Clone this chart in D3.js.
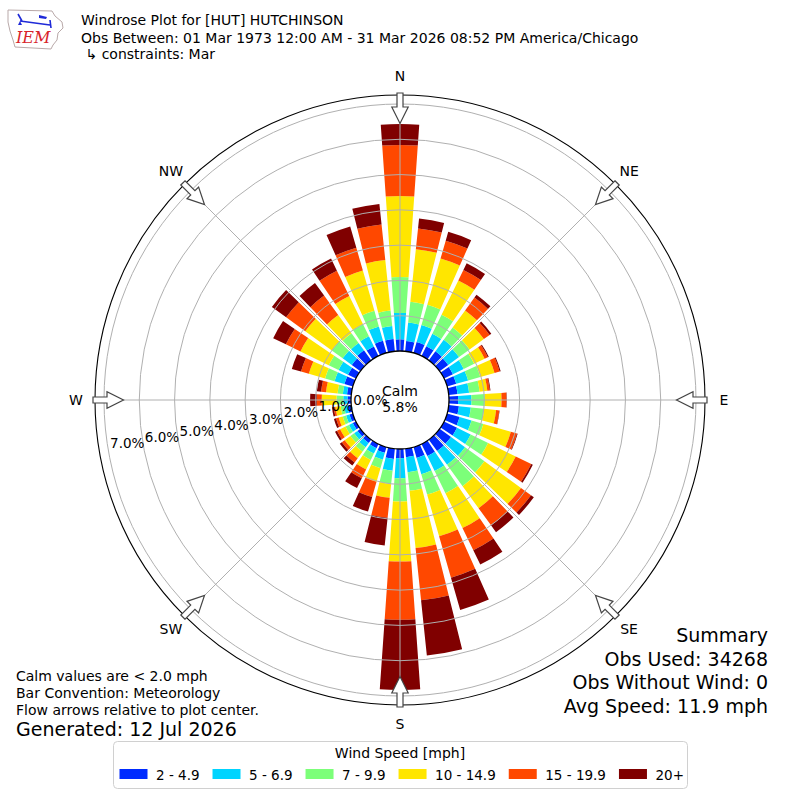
<!DOCTYPE html>
<html>
<head>
<meta charset="utf-8">
<script src="https://cdn.jsdelivr.net/npm/d3@7"></script>
<style>
  body { margin: 0; background: #fff; }
  text { font-family: "DejaVu Sans", sans-serif; fill: #000; }
</style>
</head>
<body>
<svg id="chart" width="800" height="800"></svg>
<script>
// direction bins (degrees, meteorological convention)
const directions = [0, 10, 20, 30, 40, 50, 60, 70, 80, 90, 100, 110, 120, 130, 140, 150, 160, 170,
  180, 190, 200, 210, 220, 230, 240, 250, 260, 270, 280, 290, 300, 310, 320, 330, 340, 350];

// frequency (%) per speed class, one value per direction bin
const speed_2_5 = [0.33, 0.29, 0.32, 0.31, 0.32, 0.30, 0.28, 0.27, 0.25, 0.26, 0.29, 0.37, 0.41, 0.40, 0.40, 0.38, 0.32, 0.24,
  0.26, 0.29, 0.17, 0.13, 0.12, 0.10, 0.10, 0.10, 0.10, 0.10, 0.12, 0.25, 0.25, 0.30, 0.35, 0.30, 0.36, 0.35];
const speed_5_7 = [0.75, 0.53, 0.50, 0.39, 0.40, 0.38, 0.34, 0.35, 0.33, 0.38, 0.34, 0.35, 0.43, 0.49, 0.48, 0.47, 0.48, 0.43,
  0.57, 0.34, 0.20, 0.17, 0.15, 0.12, 0.12, 0.10, 0.10, 0.12, 0.12, 0.29, 0.30, 0.32, 0.26, 0.32, 0.42, 0.37];
const speed_7_10 = [1.02, 0.59, 0.60, 0.60, 0.43, 0.37, 0.33, 0.36, 0.30, 0.38, 0.38, 0.35, 0.55, 0.68, 0.75, 0.70, 0.60, 0.53,
  0.66, 0.38, 0.25, 0.20, 0.15, 0.13, 0.11, 0.10, 0.10, 0.19, 0.15, 0.28, 0.31, 0.38, 0.34, 0.38, 0.46, 0.44];
const speed_10_15 = [2.29, 1.50, 1.36, 1.08, 0.60, 0.50, 0.33, 0.42, 0.22, 0.47, 0.34, 0.81, 0.87, 1.28, 0.77, 1.10, 1.23, 1.63,
  1.70, 0.39, 0.40, 0.30, 0.23, 0.20, 0.17, 0.12, 0.15, 0.42, 0.33, 0.48, 0.89, 0.93, 0.64, 0.89, 1.19, 1.44];
const speed_15_20 = [1.45, 0.59, 0.53, 0.33, 0.45, 0.20, 0.10, 0.15, 0.07, 0.14, 0.09, 0.18, 0.49, 0.35, 0.60, 0.70, 1.22, 1.49,
  1.65, 0.57, 0.45, 0.28, 0.15, 0.10, 0.10, 0.08, 0.05, 0.14, 0.14, 0.23, 0.46, 0.67, 0.68, 0.80, 0.67, 1.01];
const speed_20p = [0.59, 0.28, 0.26, 0.21, 0.10, 0.06, 0.03, 0.03, 0.02, 0.01, 0.01, 0.02, 0.05, 0.10, 0.24, 0.45, 0.95, 1.57,
  1.99, 0.79, 0.43, 0.31, 0.11, 0.07, 0.06, 0.06, 0.05, 0.19, 0.12, 0.27, 0.40, 0.50, 0.44, 0.38, 0.63, 0.59];

const speed_labels = ["2 - 4.9", "5 - 6.9", "7 - 9.9", "10 - 14.9", "15 - 19.9", "20+"];
const speed_colors = ["#002bff", "#00d4ff", "#7cff79", "#ffe600", "#ff4800", "#800000"];
const ring_ticks = [0, 1, 2, 3, 4, 5, 6, 7];
const compass_labels = ["N", "NE", "E", "SE", "S", "SW", "W", "NW"];
const calm_pct = 5.8;

const title_lines = [
  "Windrose Plot for [HUT] HUTCHINSON",
  "Obs Between: 01 Mar 1973 12:00 AM - 31 Mar 2026 08:52 PM America/Chicago",
  " \u21b3 constraints: Mar"
];
const summary_lines = ["Summary", "Obs Used: 34268", "Obs Without Wind: 0", "Avg Speed: 11.9 mph"];
const note_lines = ["Calm values are < 2.0 mph", "Bar Convention: Meteorology", "Flow arrows relative to plot center."];
const generated = "Generated: 12 Jul 2026";

const cx = 400, cy = 400, outerR = 305;
const rad = d => d * Math.PI / 180;
const r = d3.scaleLinear().domain([0, 7]).range([49, 296]);
const px = (rr, a) => rr * Math.sin(rad(a));
const py = (rr, a) => -rr * Math.cos(rad(a));

const svg = d3.select("#chart");

// ---- logo ----
const logo = svg.append("g");
logo.append("path")
  .attr("d", "M8,10 L52,11 L55,16 L62,22 L63,28 L58,33 L57,40 L53,45 L51,49 L15,47 L13,40 L10,31 L8,22 Z")
  .attr("fill", "none").attr("stroke", "#b9a9a9").attr("stroke-width", 1);
logo.append("path").attr("d", "M18,14 L22,21 M20,21 L50,25 M50,20 L51,28")
  .attr("fill", "none").attr("stroke", "#1f2ad8").attr("stroke-width", 1.6);
logo.append("path").attr("d", "M39,15 L47,17 L46,19 L39,18 Z").attr("fill", "#1f2ad8");
logo.append("path").attr("d", "M18,25 L20,21 L22,25 Z").attr("fill", "#1f2ad8");
logo.append("text").attr("x", 16).attr("y", 43)
  .style("font-family", "'DejaVu Serif', serif").style("font-style", "italic")
  .style("font-size", "16px").style("fill", "#d8232a").text("IEM");

// ---- title ----
svg.append("g").selectAll("text").data(title_lines).enter().append("text")
  .attr("x", 81).attr("y", (d, i) => [20, 38, 54][i])
  .attr("dominant-baseline", "central")
  .style("font-size", "14px")
  .style("white-space", "pre")
  .text(d => d);

const g = svg.append("g").attr("transform", `translate(${cx},${cy})`);

// ---- stacked bars ----
const rows = directions.map((dir, i) => ({
  dir, s0: speed_2_5[i], s1: speed_5_7[i], s2: speed_7_10[i],
  s3: speed_10_15[i], s4: speed_15_20[i], s5: speed_20p[i]
}));
const keys = ["s0", "s1", "s2", "s3", "s4", "s5"];
const series = d3.stack().keys(keys)(rows);

const arc = d3.arc()
  .innerRadius(d => r(d[0]))
  .outerRadius(d => r(d[1]))
  .startAngle(d => rad(d.data.dir - 4))
  .endAngle(d => rad(d.data.dir + 4));

g.selectAll("g.layer").data(series).enter().append("g")
  .attr("class", "layer")
  .attr("fill", (d, i) => speed_colors[i])
  .selectAll("path").data(d => d).enter().append("path")
  .attr("d", arc);

// ---- grid ----
g.selectAll("circle.ring").data(ring_ticks.filter(t => t > 0)).enter().append("circle")
  .attr("r", d => r(d))
  .attr("fill", "none").attr("stroke", "#b0b0b0").attr("stroke-width", 1);

g.selectAll("line.spoke").data(compass_labels).enter().append("line")
  .attr("x1", (d, i) => px(r(0), i * 45)).attr("y1", (d, i) => py(r(0), i * 45))
  .attr("x2", (d, i) => px(outerR, i * 45)).attr("y2", (d, i) => py(outerR, i * 45))
  .attr("stroke", "#b0b0b0").attr("stroke-width", 1);

// ---- calm circle ----
g.append("circle").attr("r", r(0)).attr("fill", "#fff").attr("stroke", "#000").attr("stroke-width", 1.3);
g.append("text").attr("x", 0).attr("y", -9).attr("text-anchor", "middle")
  .attr("dominant-baseline", "central").style("font-size", "14px").text("Calm");
g.append("text").attr("x", 0).attr("y", 7).attr("text-anchor", "middle")
  .attr("dominant-baseline", "central").style("font-size", "14px").text(calm_pct.toFixed(1) + "%");

// ---- radial labels (along 260 deg) ----
g.selectAll("text.rlab").data(ring_ticks).enter().append("text")
  .attr("x", d => px(r(d) - 19, 260))
  .attr("y", d => py(r(d) - 19, 260) - 5)
  .attr("text-anchor", "middle").attr("dominant-baseline", "central")
  .style("font-size", "13.5px")
  .text(d => d.toFixed(1) + "%");

// ---- outer circle ----
g.append("circle").attr("r", outerR).attr("fill", "none").attr("stroke", "#000").attr("stroke-width", 1.1);

// ---- flow arrows ----
g.selectAll("path.arrow").data(compass_labels).enter().append("path")
  .attr("d", "M-3,-307 L3,-307 L3,-293 L8.2,-293 L0,-276.5 L-8.2,-293 L-3,-293 Z")
  .attr("transform", (d, i) => `rotate(${i * 45})`)
  .attr("fill", "#fff").attr("stroke", "#444").attr("stroke-width", 1.2);

// ---- compass labels ----
g.selectAll("text.clab").data(compass_labels).enter().append("text")
  .attr("x", (d, i) => px(324, i * 45)).attr("y", (d, i) => py(324, i * 45))
  .attr("text-anchor", "middle").attr("dominant-baseline", "central")
  .style("font-size", "14px")
  .text(d => d);

// ---- summary ----
svg.append("g").selectAll("text").data(summary_lines).enter().append("text")
  .attr("x", 768).attr("y", (d, i) => 635 + i * 23.5)
  .attr("text-anchor", "end").attr("dominant-baseline", "central")
  .style("font-size", "19px").text(d => d);

// ---- notes ----
svg.append("g").selectAll("text").data(note_lines).enter().append("text")
  .attr("x", 16).attr("y", (d, i) => 676 + i * 17)
  .attr("dominant-baseline", "central")
  .style("font-size", "14px").text(d => d);
svg.append("text").attr("x", 16).attr("y", 729).attr("dominant-baseline", "central")
  .style("font-size", "19px").text(generated);

// ---- legend ----
const leg = svg.append("g");
leg.append("rect").attr("x", 113.5).attr("y", 741.5).attr("width", 574).attr("height", 47).attr("rx", 4)
  .attr("fill", "#fff").attr("stroke", "#d0d0d0");
leg.append("text").attr("x", 400).attr("y", 753).attr("text-anchor", "middle")
  .attr("dominant-baseline", "central").style("font-size", "14px").text("Wind Speed [mph]");
let lx = 119.5;
speed_labels.forEach((lab, i) => {
  leg.append("rect").attr("x", lx).attr("y", 769).attr("width", 28).attr("height", 10)
    .attr("fill", speed_colors[i]);
  const t = leg.append("text").attr("x", lx + 36.5).attr("y", 774.5)
    .attr("dominant-baseline", "central").style("font-size", "13.5px").text(lab);
  lx += 36.5 + t.node().getComputedTextLength() + 13;
});
</script>
</body>
</html>
